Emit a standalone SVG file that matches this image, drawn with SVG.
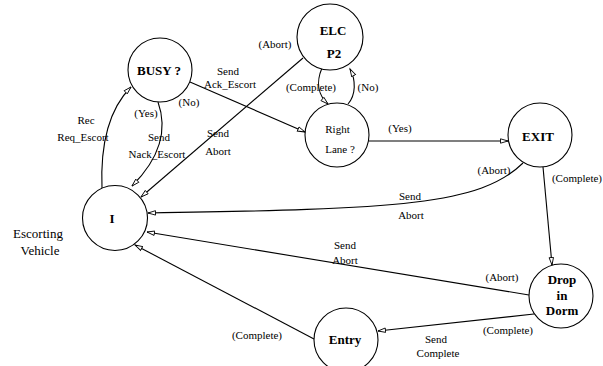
<svg xmlns="http://www.w3.org/2000/svg" width="603" height="366" viewBox="0 0 603 366">
<style>
.n{fill:#fff;stroke:#000;stroke-width:1.1}
.e{fill:none;stroke:#000;stroke-width:1.1;marker-end:url(#ah)}
.e0{fill:none;stroke:#000;stroke-width:1.1}
text{font-family:"Liberation Serif","Times New Roman",serif;fill:#000;text-anchor:middle}
.b{font-weight:bold;font-size:13px}
.l{font-size:11px}
.r{font-size:11px}
.c{font-size:13px}
</style>
<defs>
<marker id="ah" markerUnits="userSpaceOnUse" markerWidth="10" markerHeight="8" refX="8" refY="4" orient="auto">
<path d="M0.5,1.8 L8,4 L0.5,6.2 z" fill="#fff" stroke="#000" stroke-width="0.9"/>
</marker>
</defs>
<rect width="603" height="366" fill="#fff"/>
<g id="connectors">
<path class="e" d="M102,189 C100,140 110,108 131,87"/>
<path class="e" d="M158,102 C168,130 160,158 132,186"/>
<path class="e" d="M303,58 L141,197"/>
<path class="e" d="M190,82 L305,132"/>
<path class="e" d="M369,141 L508,141"/>
<path class="e" d="M523,163 C480,205 400,209 148,213"/>
<path class="e" d="M543,167 L552,265"/>
<path class="e" d="M529,295 L147,232"/>
<path class="e" d="M534,314 L378,331"/>
<path class="e" d="M314,339 L135,245"/>
<path class="e" d="M322,68 C316,82 318,95 328,104"/>
<path class="e" d="M348,104 C356,95 356,80 350,69"/>
</g>
<g id="labels">
<text class="l" x="275" y="48">(Abort)</text>
<text class="l" x="218" y="137">Send</text>
<text class="l" x="218" y="155">Abort</text>
<text class="l" x="228" y="75">Send</text>
<text class="l" x="230" y="88">Ack_Escort</text>
<text class="l" x="189" y="106">(No)</text>
<text class="l" x="146" y="117">(Yes)</text>
<text class="l" x="159" y="141">Send</text>
<text class="l" x="157" y="158">Nack_Escort</text>
<text class="l" x="86" y="124">Rec</text>
<text class="l" x="83" y="141">Req_Escort</text>
<text class="l" x="311" y="91">(Complete)</text>
<text class="l" x="368" y="91">(No)</text>
<text class="l" x="400" y="132">(Yes)</text>
<text class="l" x="494" y="174">(Abort)</text>
<text class="l" x="410" y="200">Send</text>
<text class="l" x="411" y="219">Abort</text>
<text class="l" x="577" y="182">(Complete)</text>
<text class="l" x="502" y="281">(Abort)</text>
<text class="l" x="345" y="249">Send</text>
<text class="l" x="345" y="264">Abort</text>
<text class="l" x="508" y="334">(Complete)</text>
<text class="l" x="436" y="343">Send</text>
<text class="l" x="438" y="357">Complete</text>
<text class="l" x="257" y="339">(Complete)</text>
<text class="c" x="38" y="237.5">Escorting</text>
<text class="c" x="40" y="254.5">Vehicle</text>
</g>
<g id="busy">
<circle class="n" cx="160" cy="70" r="32"/>
<text class="b" x="159" y="74.5">BUSY ?</text>
</g>
<g id="elc">
<circle class="n" cx="330" cy="37" r="33"/>
<text class="b" x="333" y="34.5">ELC</text>
<text class="b" x="334" y="57.5">P2</text>
</g>
<g id="rightlane">
<circle class="n" cx="337" cy="135" r="32"/>
<text class="r" x="337.5" y="133">Right</text>
<text class="r" x="340" y="153">Lane ?</text>
</g>
<g id="exit">
<circle class="n" cx="540" cy="135" r="32"/>
<text class="b" x="538" y="140.5">EXIT</text>
</g>
<g id="i">
<circle class="n" cx="115" cy="218" r="32.5"/>
<text class="b" x="112" y="222.5">I</text>
</g>
<g id="drop">
<circle class="n" cx="561" cy="296" r="32"/>
<text class="b" x="562" y="283.5">Drop</text>
<text class="b" x="562" y="299.5">in</text>
<text class="b" x="562" y="314.5">Dorm</text>
</g>
<g id="entry">
<circle class="n" cx="346" cy="340" r="32"/>
<text class="b" x="345" y="343.5">Entry</text>
</g>
</svg>
